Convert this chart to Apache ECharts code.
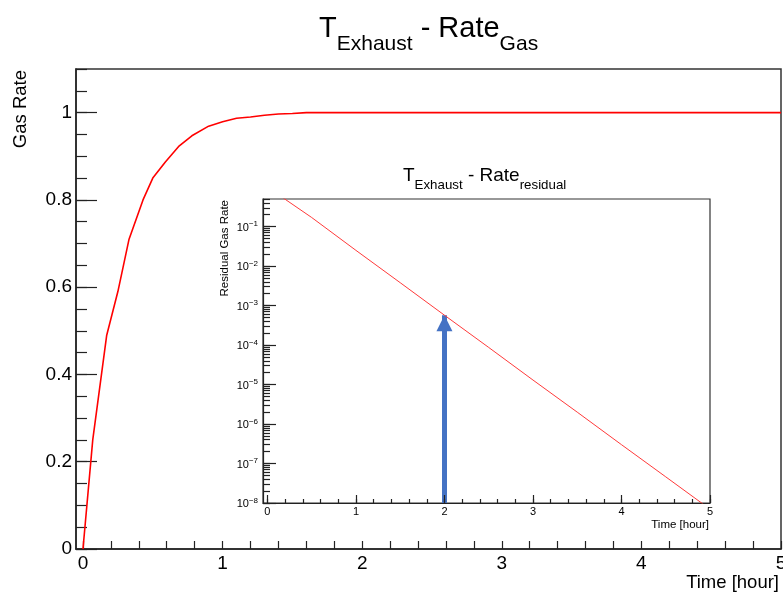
<!DOCTYPE html>
<html>
<head>
<meta charset="utf-8">
<script src="https://cdn.jsdelivr.net/npm/echarts@6.0.0/dist/echarts.min.js"></script>
<style>
  html, body { margin: 0; padding: 0; background: #fff; }
  #chart { width: 783px; height: 593px; }
</style>
</head>
<body>
<div id="chart"></div>
<script>
// Gas rate after exhaust starts (main panel)
const timeMain = [0, 0.07, 0.17, 0.25, 0.33, 0.43, 0.5, 0.59, 0.69, 0.78, 0.9, 1.0, 1.1, 1.2, 1.3, 1.4, 1.5, 1.6, 2, 3, 4, 5];
const gasRate  = [0, 0.25, 0.49, 0.59, 0.71, 0.80, 0.85, 0.887, 0.924, 0.947, 0.969, 0.979, 0.987, 0.990, 0.994, 0.997, 0.998, 1.0, 1.0, 1.0, 1.0, 1.0];

// Residual gas rate (inset, log scale)
const timeResidual = [0, 0.5, 1, 1.5, 2, 2.5, 3, 3.5, 4, 4.5, 5];
const residualRate = [1.0, 0.17, 0.025, 3.8e-3, 5.7e-4, 8.7e-5, 1.3e-5, 2.0e-6, 3.0e-7, 4.6e-8, 7e-9];

// Highlighted time on the residual curve
const markTime = 2;

// Axis ranges and tick labels
const timeMin = -0.05, timeMax = 5;
const rateMin = 0, rateMax = 1.1;
const residualMin = 1e-8, residualMax = 0.5;
const timeLabels = [0, 1, 2, 3, 4, 5];
const rateLabels = [0, 0.2, 0.4, 0.6, 0.8, 1];
const residualLabels = [1e-8, 1e-7, 1e-6, 1e-5, 1e-4, 1e-3, 1e-2, 1e-1];

function steps(a, b, d) {
  const out = [];
  for (let i = 0; a + i * d <= b + 1e-9; i++) out.push(+(a + i * d).toFixed(6));
  return out;
}
const timeMinorTicks = steps(0, 5, 0.2);
const rateMinorTicks = steps(0, 1.1, 0.05);
const residualMinorTicks = [];
for (let e = -8; e <= -1; e++) {
  for (let k = 1; k <= 9; k++) {
    const v = +(k * Math.pow(10, e)).toPrecision(3);
    if (v <= residualMax) residualMinorTicks.push(v);
  }
}

const FONT = 'Liberation Sans, Arial, Helvetica, sans-serif';
const INK = '#222';
const markResidual = residualRate[timeResidual.indexOf(markTime)];

function zip(xs, ys) { return xs.map((x, i) => [x, ys[i]]); }

const chart = echarts.init(document.getElementById('chart'), null, { renderer: 'canvas' });

const tickStyle = { color: INK, width: 1.2 };
const noZero = { show: false, onZero: false };

chart.setOption({
  animation: false,
  backgroundColor: '#fff',
  title: [
    {
      left: 319, top: 14, padding: 0,
      text: '{m|T}{s|Exhaust}{m| - Rate}{s|Gas}',
      textStyle: {
        fontWeight: 'normal',
        rich: {
          m: { fontSize: 29, fontFamily: FONT, fontWeight: 'normal', color: '#000', verticalAlign: 'bottom', padding: [0, 0, 12, 0] },
          s: { fontSize: 21, fontFamily: FONT, fontWeight: 'normal', color: '#000', verticalAlign: 'bottom' }
        }
      }
    },
    {
      left: 403, top: 166, padding: 0,
      text: '{m|T}{s|Exhaust}{m| - Rate}{s|residual}',
      textStyle: {
        fontWeight: 'normal',
        rich: {
          m: { fontSize: 19, fontFamily: FONT, fontWeight: 'normal', color: '#000', verticalAlign: 'bottom', padding: [0, 0, 7, 0] },
          s: { fontSize: 13.3, fontFamily: FONT, fontWeight: 'normal', color: '#000', verticalAlign: 'bottom' }
        }
      }
    }
  ],
  grid: [
    { left: 76, right: 2, top: 69, bottom: 44, outerBoundsMode: 'none', containLabel: false,
      show: true, borderColor: '#333', borderWidth: 1.5, backgroundColor: '#fff' },
    { left: 263, right: 73, top: 199, bottom: 90, outerBoundsMode: 'none', containLabel: false,
      show: true, borderColor: '#333', borderWidth: 1.2, backgroundColor: '#fff', z: 5 }
  ],
  xAxis: [
    {
      gridIndex: 0, type: 'value', min: timeMin, max: timeMax, position: 'bottom',
      axisLine: { show: true, onZero: false, lineStyle: { color: INK, width: 1.5 } },
      axisTick: { show: true, inside: true, length: 8, customValues: timeMinorTicks, lineStyle: tickStyle },
      axisLabel: { customValues: timeLabels, fontSize: 19, fontFamily: FONT, color: '#000', margin: 5 },
      splitLine: { show: false },
      name: 'Time [hour]', nameLocation: 'end', nameGap: -2,
      nameTextStyle: { fontSize: 18.5, fontFamily: FONT, color: '#000', align: 'right', verticalAlign: 'top', padding: [24, 0, 0, 0] }
    },
    {
      gridIndex: 1, type: 'value', min: timeMin, max: timeMax, position: 'bottom', z: 6,
      axisLine: { show: true, onZero: false, lineStyle: { color: INK, width: 1.2 } },
      axisTick: { show: true, inside: true, length: 8, customValues: timeLabels, lineStyle: tickStyle },
      axisLabel: { customValues: timeLabels, fontSize: 11, fontFamily: FONT, color: '#000', margin: 3 },
      splitLine: { show: false },
      name: 'Time [hour]', nameLocation: 'end', nameGap: -1,
      nameTextStyle: { fontSize: 11.5, fontFamily: FONT, color: '#000', align: 'right', verticalAlign: 'top', padding: [16, 0, 0, 0] }
    },
    {
      gridIndex: 1, type: 'value', min: timeMin, max: timeMax, position: 'bottom', offset: 0, z: 6,
      axisLine: noZero,
      axisTick: { show: true, inside: true, length: 4, customValues: timeMinorTicks, lineStyle: tickStyle },
      axisLabel: { show: false },
      splitLine: { show: false }
    }
  ],
  yAxis: [
    {
      gridIndex: 0, type: 'value', min: rateMin, max: rateMax, position: 'left',
      axisLine: { show: true, onZero: false, lineStyle: { color: INK, width: 1.5 } },
      axisTick: { show: true, inside: true, length: 21, customValues: rateLabels, lineStyle: tickStyle },
      axisLabel: { customValues: rateLabels, fontSize: 19, fontFamily: FONT, color: '#000', margin: 4 },
      splitLine: { show: false },
      name: 'Gas Rate', nameLocation: 'end', nameGap: -1, nameRotate: 90,
      nameTextStyle: { fontSize: 18.5, fontFamily: FONT, color: '#000', align: 'right', verticalAlign: 'bottom', padding: [0, 0, 46, 0] }
    },
    {
      gridIndex: 0, type: 'value', min: rateMin, max: rateMax, position: 'left', offset: 0,
      axisLine: noZero,
      axisTick: { show: true, inside: true, length: 11, customValues: rateMinorTicks, lineStyle: tickStyle },
      axisLabel: { show: false },
      splitLine: { show: false }
    },
    {
      gridIndex: 1, type: 'log', logBase: 10, min: residualMin, max: residualMax, position: 'left', z: 6,
      axisLine: { show: true, onZero: false, lineStyle: { color: INK, width: 1.2 } },
      axisTick: { show: true, inside: true, length: 13, customValues: residualLabels, lineStyle: tickStyle },
      axisLabel: {
        customValues: residualLabels, margin: 5, color: '#000',
        formatter: v => '{b|10}{s|' + String(Math.round(Math.log10(v))).replace('-', '\u2212') + '}',
        rich: {
          b: { fontSize: 11, fontFamily: FONT, color: '#000', verticalAlign: 'bottom' },
          s: { fontSize: 8, fontFamily: FONT, color: '#000', verticalAlign: 'bottom', padding: [0, 0, 5, 0] }
        }
      },
      splitLine: { show: false },
      name: 'Residual Gas Rate', nameLocation: 'end', nameGap: -1, nameRotate: 90,
      nameTextStyle: { fontSize: 11.5, fontFamily: FONT, color: '#000', align: 'right', verticalAlign: 'bottom', padding: [0, 0, 32, 0] }
    },
    {
      gridIndex: 1, type: 'log', logBase: 10, min: residualMin, max: residualMax, position: 'left', offset: 0, z: 6,
      axisLine: noZero,
      axisTick: { show: true, inside: true, length: 7, customValues: residualMinorTicks, lineStyle: tickStyle },
      axisLabel: { show: false },
      splitLine: { show: false }
    }
  ],
  series: [
    {
      type: 'line', xAxisIndex: 0, yAxisIndex: 0,
      data: zip(timeMain, gasRate),
      showSymbol: false, symbol: 'none',
      lineStyle: { color: '#ff0000', width: 1.6 },
      z: 3
    },
    {
      type: 'line', xAxisIndex: 1, yAxisIndex: 2,
      data: zip(timeResidual, residualRate),
      showSymbol: false, symbol: 'none', clip: true,
      lineStyle: { color: '#ff3a3a', width: 1 },
      z: 7,
      markLine: {
        silent: true,
        symbol: ['none', 'triangle'],
        symbolSize: 16,
        label: { show: false },
        lineStyle: { color: '#4472c4', width: 5, type: 'solid', opacity: 1 },
        data: [[
          { coord: [markTime, residualMin], symbol: 'none' },
          { coord: [markTime, markResidual], symbol: 'triangle', symbolSize: [16, 16], symbolOffset: [0, 8] }
        ]]
      }
    }
  ]
});
</script>
</body>
</html>
